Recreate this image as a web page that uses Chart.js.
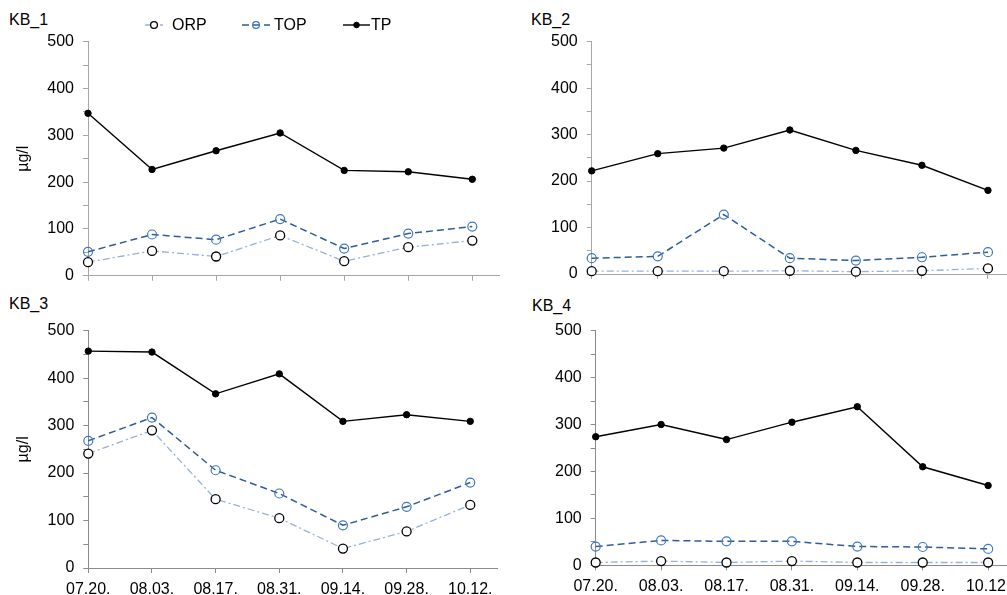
<!DOCTYPE html>
<html>
<head>
<meta charset="utf-8">
<script src="https://cdn.jsdelivr.net/npm/chart.js@4.4.1/dist/chart.umd.min.js"></script>
<style>
  html, body { margin: 0; padding: 0; background: #fff; overflow: hidden; }
  body { width: 1007px; height: 595px; position: relative; font-family: "Liberation Sans", Arial, sans-serif; }
  canvas { position: absolute; }
  .kb { position: absolute; font-size: 16px; color: #000; line-height: 16px; }
</style>
</head>
<body>

<div class="kb" style="left:9px;top:12px">KB_1</div>
<div class="kb" style="left:531px;top:12px">KB_2</div>
<div class="kb" style="left:9px;top:296px">KB_3</div>
<div class="kb" style="left:532px;top:298px">KB_4</div>

<canvas id="c1" width="505" height="300" style="left:0;top:0"></canvas>
<canvas id="c2" width="525" height="300" style="left:505px;top:0"></canvas>
<canvas id="c3" width="505" height="305" style="left:0;top:290px"></canvas>
<canvas id="c4" width="525" height="305" style="left:505px;top:290px"></canvas>

<script>
const dates = ['07.20.', '08.03.', '08.17.', '08.31.', '09.14.', '09.28.', '10.12.'];
const seriesNames = ['ORP', 'TOP', 'TP'];
const yTicks = [0, 100, 200, 300, 400, 500];

const kb1Orp = [29, 53, 41, 86, 31, 61, 75];
const kb1Top = [51, 88, 77, 121, 58, 90, 105];
const kb1Tp  = [347, 227, 267, 305, 225, 222, 206];

const kb2Orp = [6, 6, 6, 7, 5, 7, 12];
const kb2Top = [34, 38, 128, 34, 29, 36, 47];
const kb2Tp  = [222, 259, 271, 310, 266, 234, 180];

const kb3Orp = [241, 290, 145, 105, 41, 77, 133];
const kb3Top = [268, 317, 206, 157, 90, 129, 180];
const kb3Tp  = [457, 455, 367, 409, 309, 323, 309];

const kb4Orp = [6, 9, 6, 9, 6, 6, 6];
const kb4Top = [40, 53, 51, 51, 40, 39, 35];
const kb4Tp  = [274, 300, 268, 305, 338, 210, 170];

const FONT = '"Liberation Sans", Arial, sans-serif';
Chart.defaults.font.family = FONT;
Chart.defaults.font.size = 16;
Chart.defaults.color = '#000';

function pts(arr) {
    return arr.map((v, i) => ({ x: i, y: v }));
}

function makeDatasets(orp, top, tp) {
    return [
        {
            label: seriesNames[0], data: pts(orp),
            borderColor: '#95b3d7', borderWidth: 1.3, borderDash: [7, 3, 2, 3],
            pointRadius: 4.5, pointBackgroundColor: '#fff', pointBorderColor: '#000', pointBorderWidth: 1.3,
            clip: false, order: 3
        },
        {
            label: seriesNames[1], data: pts(top),
            borderColor: '#2f5d96', borderWidth: 1.5, borderDash: [7, 4],
            pointRadius: 4.5, pointBackgroundColor: 'rgba(0,0,0,0)', pointBorderColor: '#3f79c2', pointBorderWidth: 1.2,
            clip: false, order: 2
        },
        {
            label: seriesNames[2], data: pts(tp),
            borderColor: '#000', borderWidth: 1.4,
            pointRadius: 3.2, pointBackgroundColor: '#000', pointBorderColor: '#000', pointBorderWidth: 1,
            clip: false, order: 1
        }
    ];
}

// legend drawn on the first panel, styled from its datasets
const legendPlugin = {
    id: 'lineLegend',
    afterDraw(chart) {
        const ctx = chart.ctx;
        const spots = [
            { x1: 145, x2: 163, tx: 172 },
            { x1: 242, x2: 270, tx: 274 },
            { x1: 343, x2: 370, tx: 371 }
        ];
        const y = 25;
        ctx.save();
        chart.data.datasets.forEach((ds, i) => {
            const s = spots[i];
            ctx.beginPath();
            ctx.setLineDash(ds.borderDash || []);
            ctx.strokeStyle = ds.borderColor;
            ctx.lineWidth = ds.borderWidth;
            ctx.moveTo(s.x1, y);
            ctx.lineTo(s.x2, y);
            ctx.stroke();
            ctx.setLineDash([]);
            ctx.beginPath();
            ctx.arc((s.x1 + s.x2) / 2, y, i === 2 ? 2.8 : 3.4, 0, Math.PI * 2);
            ctx.fillStyle = ds.pointBackgroundColor;
            ctx.fill();
            ctx.strokeStyle = ds.pointBorderColor;
            ctx.lineWidth = ds.pointBorderWidth;
            ctx.stroke();
            ctx.fillStyle = '#000';
            ctx.font = '16px ' + FONT;
            ctx.textBaseline = 'middle';
            ctx.fillText(ds.label, s.tx, y + 1);
        });
        ctx.restore();
    }
};

function makePanel(id, orp, top, tp, o) {
    new Chart(document.getElementById(id), {
        type: 'line',
        data: { datasets: makeDatasets(orp, top, tp) },
        plugins: o.legend ? [legendPlugin] : [],
        options: {
            responsive: false,
            animation: false,
            layout: { padding: o.padding },
            plugins: { legend: { display: false }, tooltip: { enabled: false } },
            scales: {
                x: {
                    type: 'linear', min: 0, max: 6.42,
                    afterBuildTicks: s => { s.ticks = dates.map((d, i) => ({ value: i })); },
                    afterFit: s => { s.height = o.xHeight; },
                    ticks: {
                        display: o.xLabels, padding: 7, maxRotation: 0,
                        callback: v => dates[v]
                    },
                    grid: { drawOnChartArea: false, drawTicks: true, tickLength: 5, color: o.axisColor },
                    border: { color: o.axisColor, width: 1 }
                },
                y: {
                    min: 0, max: 500,
                    afterBuildTicks: s => {
                        const t = [];
                        for (let v = 0; v <= 500; v += 50) t.push({ value: v });
                        s.ticks = t;
                    },
                    afterFit: s => { s.width = o.yWidth; },
                    ticks: {
                        padding: 9,
                        callback: v => yTicks.includes(v) ? v : ''
                    },
                    title: {
                        display: o.yTitle, text: 'µg/l', font: { size: 16 }, color: '#000',
                        padding: { top: 4, bottom: 4 }
                    },
                    grid: { drawOnChartArea: false, drawTicks: true, tickLength: 5, color: o.axisColor },
                    border: { color: o.axisColor, width: 1 }
                }
            }
        }
    });
}

makePanel('c1', kb1Orp, kb1Top, kb1Tp, {
    legend: true, xLabels: false, yTitle: true, axisColor: '#a6a6a6',
    padding: { left: 10, top: 41.7, right: 5, bottom: 0 }, yWidth: 78, xHeight: 24.3
});
makePanel('c2', kb2Orp, kb2Top, kb2Tp, {
    legend: false, xLabels: false, yTitle: false, axisColor: '#a6a6a6',
    padding: { left: 0, top: 41.7, right: 14.3, bottom: 0 }, yWidth: 86.7, xHeight: 26
});
makePanel('c3', kb3Orp, kb3Top, kb3Tp, {
    legend: false, xLabels: true, yTitle: true, axisColor: '#8a8a8a',
    padding: { left: 10, top: 40.7, right: 8, bottom: 0 }, yWidth: 78.3, xHeight: 27
});
makePanel('c4', kb4Orp, kb4Top, kb4Tp, {
    legend: false, xLabels: true, yTitle: false, axisColor: '#8a8a8a',
    padding: { left: 0, top: 40.7, right: 14.4, bottom: 0 }, yWidth: 90.7, xHeight: 29.7
});
</script>
</body>
</html>
